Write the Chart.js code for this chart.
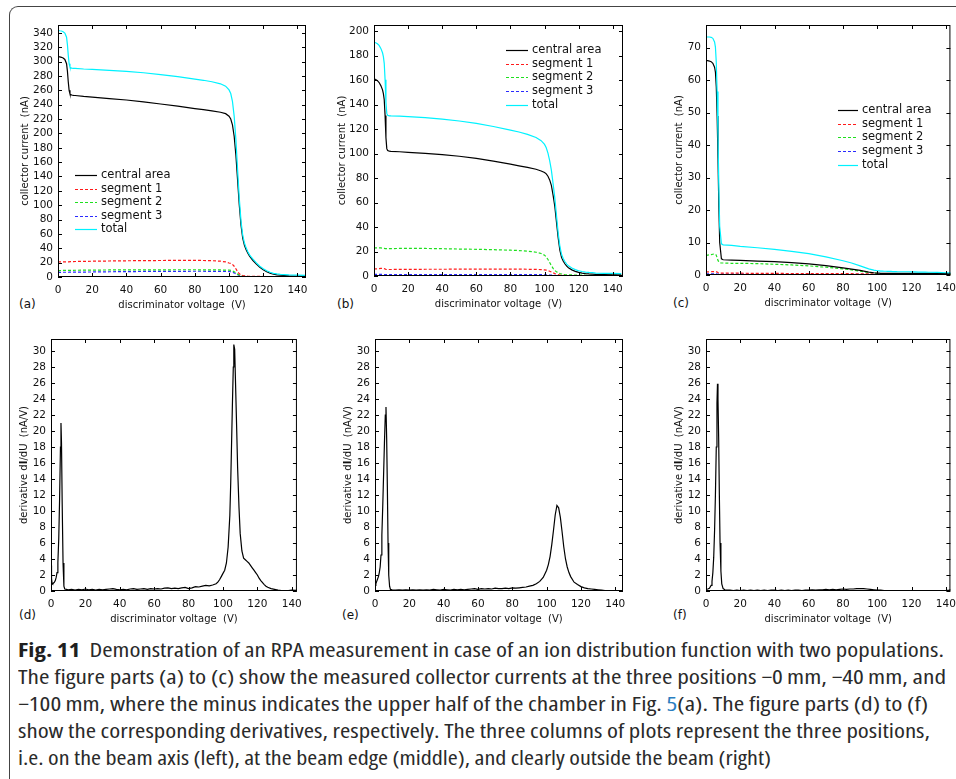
<!DOCTYPE html>
<html>
<head>
<meta charset="utf-8">
<script src="https://cdn.jsdelivr.net/npm/chart.js@4/dist/chart.umd.min.js"></script>
<style>
  html, body { margin: 0; padding: 0; background: #fff; }
  body { width: 956px; height: 779px; position: relative; overflow: hidden; }
  #frame { position: absolute; left: 9px; top: 6px; width: 960px; height: 800px;
           border-left: 1px solid #444; border-top: 1px solid #444; border-top-left-radius: 9px; }
  canvas { position: absolute; }
  .plab { position: absolute; font-family: "DejaVu Sans", sans-serif; font-size: 12px; color: #111; line-height: 14px; }
  .ln { position: absolute; left: 18px; white-space: nowrap; font-family: "Liberation Sans Narrow", "Open Sans", sans-serif;
        font-stretch: condensed; font-size: 19px; line-height: 27px; color: #2a2a2a; transform-origin: 0 50%; }
  .ln b { color: #1f1f1f; }
  .lnk { color: #2a7ec0; }
</style>
</head>
<body>
<div id="frame"></div>

<div class="plab" style="left:19px;top:297px">(a)</div>
<div class="plab" style="left:337px;top:297px">(b)</div>
<div class="plab" style="left:673px;top:296px">(c)</div>
<div class="plab" style="left:19px;top:608px">(d)</div>
<div class="plab" style="left:342px;top:608px">(e)</div>
<div class="plab" style="left:673px;top:608px">(f)</div>

<div class="ln" data-w="926" style="top:637px"><b>Fig. 11</b>&nbsp; Demonstration of an RPA measurement in case of an ion distribution function with two populations.</div>
<div class="ln" data-w="928" style="top:664px">The figure parts (a) to (c) show the measured collector currents at the three positions −0&#8201;mm, −40&#8201;mm, and</div>
<div class="ln" data-w="910" style="top:691px">−100&#8201;mm, where the minus indicates the upper half of the chamber in Fig. <span class="lnk">5</span>(a). The figure parts (d) to (f)</div>
<div class="ln" data-w="912" style="top:718px">show the corresponding derivatives, respectively. The three columns of plots represent the three positions,</div>
<div class="ln" data-w="753" style="top:745px">i.e. on the beam axis (left), at the beam edge (middle), and clearly outside the beam (right)</div>

<script>
// ---------------- DATA ----------------
// discriminator voltage grid (V) shared by the collector-current panels (a)-(c)
const voltGrid = [0,1,2,3,4,5,5.5,6,6.5,7,7.5,8,9,10,15,20,30,40,50,60,70,80,85,90,95,98,100,
  101,102,103,104,105,106,107,108,109,110,111,112,113,114,116,118,120,122,124,126,128,130,135,140,145];

const seriesNames = ["central area", "segment 1", "segment 2", "segment 3", "total"];

// (a) beam axis, collector current (nA)
const aCentral = [307,306.5,306,305,303,297, 287,272,260,255,254,253.5, 253,252.8,251.5,250.5,248.5,246.5,244,241,238,234.5,
  233,231.5,229.5,227.5,224, 220,212,196,170,135,100,72,54,44,38,33,29,26,23, 18,13.5,10,7.2,5.2,3.8,3,2.4, 1.7,1.4,1.2];
const aSeg1 = [21,21,21,21,21,21.1, 21.1,21.2,21.2,21.3,21.3,21.4, 21.5,21.6,21.8,22,22.3,22.6,22.8,23,23.1,23.1,
  23,22.7,22,21,19.5, 19,17.5,15,11.5,7.5,4.5,2.8,2,1.6,1.3,1.1,1,0.9,0.9, 0.8,0.8,0.7,0.7,0.7,0.6,0.6,0.6, 0.6,0.5,0.5];
const aSeg2 = [9,9,9.1,9.1,9.1,9.2, 9.2,9.2,9.2,9.3,9.3,9.3, 9.3,9.4,9.5,9.6,9.8,9.9,10,10,10.1,10.1,
  10,9.9,9.8,9.6,9.5, 9.2,8.5,7.3,5.7,4,2.6,1.7,1.2,0.9,0.7,0.6,0.5,0.5,0.5, 0.5,0.4,0.4,0.4,0.4,0.4,0.4,0.4, 0.4,0.4,0.4];
const aSeg3 = [6.5,6.5,6.5,6.6,6.6,6.6, 6.6,6.6,6.7,6.7,6.7,6.7, 6.8,6.8,6.9,7,7.3,7.5,7.7,7.8,7.9,8,
  8,7.9,7.8,7.7,7.6, 7.3,6.7,5.8,4.5,3.2,2.1,1.4,1,0.8,0.6,0.5,0.4,0.4,0.4, 0.4,0.3,0.3,0.3,0.3,0.3,0.3,0.3, 0.3,0.3,0.3];
const aTotal = [343.5,343,342.6,341.7,339.7,333.9, 323.9,309,297.1,292.3,291.3,290.9, 290.6,290.6,289.7,289.1,287.9,286.5,284.5,281.8,279.1,275.7,
  274,272,269.1,265.8,260.6, 255.5,244.7,224.1,191.7,149.7,109.2,77.9,58.2,47.3,40.6,35.2,30.9,27.8,24.8, 19.7,15,11.4,8.6,6.6,5.1,4.3,3.7, 3,2.6,2.4];

// (b) beam edge, collector current (nA)
const bCentral = [161,160.5,159.5,158,155.5,152, 149,144,131,113,104,102.5, 102,101.8,101.5,101,100.2,99.2,97.8,96,93.8,91.3,
  90,88.7,87.2,85.8,84.5, 83.4,81.5,78.5,74,66,57,44,31,21,15,12,9.8,8,6.7, 5,3.8,3,2.4,2,1.7,1.5,1.3, 1.1,1,0.9];
const bSeg1 = [5.7,5.8,5.9,6,6.2,6.3, 6.2,6,5.7,5.4,5.3,5.3, 5.3,5.3,5.4,5.4,5.5,5.5,5.6,5.6,5.6,5.6,
  5.6,5.5,5.4,5.2,5, 4.8,4.4,3.9,3.3,2.6,2,1.5,1.1,0.8,0.6,0.5,0.4,0.4,0.4, 0.3,0.3,0.3,0.3,0.3,0.3,0.3,0.3, 0.3,0.3,0.3];
const bSeg2 = [22.8,22.9,23,23,22.9,22.7, 22.6,22.5,22.4,22.3,22.3,22.3, 22.3,22.4,22.5,22.5,22.5,22.3,22,21.8,21.5,21.1,
  20.8,20.3,19.4,18.4,17, 15.5,13.5,11,8.5,6.3,4.6,3.4,2.6,2,1.6,1.3,1.1,1,0.9, 0.9,0.8,0.7,0.7,0.6,0.6,0.6,0.5, 0.5,0.5,0.5];
const bSeg3 = [1.3,1.3,1.3,1.3,1.3,1.3, 1.3,1.2,1.2,1.2,1.2,1.2, 1.2,1.2,1.2,1.2,1.2,1.2,1.2,1.2,1.2,1.2,
  1.2,1.2,1.1,1.1,1, 1,0.9,0.8,0.7,0.6,0.5,0.4,0.4,0.3,0.3,0.3,0.3,0.3,0.3, 0.3,0.3,0.3,0.3,0.3,0.3,0.3,0.3, 0.3,0.3,0.3];
const bTotal = [190.8,190.5,189.7,188.3,185.9,182.3, 179.1,173.7,160.3,141.9,132.8,131.3, 130.8,130.7,130.6,130.1,129.4,128.2,126.6,124.6,122.1,119.2,
  117.6,115.7,113.1,110.5,107.5, 104.7,100.3,94.2,86.5,75.5,64.1,49.3,35.1,24.1,17.5,14.1,11.6,9.7,8.3, 6.5,5.2,4.3,3.7,3.2,2.9,2.7,2.4, 2.2,2.1,2];

// (c) outside the beam, collector current (nA)
const cCentral = [66,66,65.9,65.7,65.2,64, 62.5,58,49,36,21,10, 5,4.7,4.6,4.5,4.3,4.1,3.8,3.4,2.9,2.2,
  1.8,1.4,0.9,0.7,0.6, 0.55,0.5,0.5,0.5,0.5,0.5,0.5,0.5,0.5,0.5,0.5,0.5,0.5,0.5, 0.5,0.5,0.5,0.5,0.5,0.5,0.5,0.5, 0.4,0.4,0.3];
const cSeg1 = [0.9,0.95,1,1,1.05,1.05, 1.05,1,0.9,0.75,0.65,0.6, 0.6,0.6,0.55,0.55,0.5,0.5,0.45,0.45,0.4,0.4,
  0.4,0.35,0.35,0.3,0.3, 0.3,0.3,0.25,0.25,0.25,0.25,0.25,0.25,0.25,0.2,0.2,0.2,0.2,0.2, 0.2,0.2,0.2,0.2,0.2,0.2,0.2,0.2, 0.2,0.2,0.2];
const cSeg2 = [6,6.1,6.2,6.3,6.4,6.5, 6.4,6.1,5.3,4.5,4,3.8, 3.7,3.7,3.6,3.6,3.5,3.3,3.1,2.8,2.4,1.9,
  1.6,1.2,0.8,0.6,0.5, 0.45,0.4,0.4,0.4,0.4,0.4,0.4,0.35,0.35,0.35,0.35,0.3,0.3,0.3, 0.3,0.3,0.3,0.3,0.3,0.3,0.25,0.25, 0.25,0.2,0.2];
const cSeg3 = [0.35,0.35,0.35,0.35,0.35,0.35, 0.35,0.35,0.3,0.3,0.3,0.3, 0.25,0.25,0.25,0.25,0.25,0.25,0.25,0.2,0.2,0.2,
  0.2,0.2,0.2,0.2,0.2, 0.2,0.15,0.15,0.15,0.15,0.15,0.15,0.15,0.15,0.15,0.15,0.15,0.15,0.15, 0.15,0.15,0.1,0.1,0.1,0.1,0.1,0.1, 0.1,0.1,0.1];
const cTotal = [73.3,73.3,73.3,73.2,72.9,71.8, 70.2,65.5,56.5,43,27,15, 9.6,9.3,9.1,8.8,8.4,7.9,7.3,6.6,5.6,4.4,
  3.7,2.8,1.9,1.5,1.3, 1.25,1.2,1.2,1.15,1.15,1.1,1.1,1.1,1.05,1.05,1.05,1,1,1, 1,1,0.95,0.95,0.9,0.9,0.9,0.85, 0.8,0.7,0.6];

// (d) derivative dI/dU (nA/V), beam axis
const dVolt = [0,0.3,0.6,1,1.5,2,2.5,3,3.5,4, 4.5,5,5.5,5.8,6.1,6.5,7,7.5,8,9, 10,12,14,16,18,20,22,24,26,28,
  30,32,34,36,38,40,42,44,46,48, 50,52,54,56,58,60,62,64,66,68, 70,72,74,76,78,80,82,84,86,88,
  90,92,94,96,97,98,99,100,101,102, 103,104,104.5,105,105.5,106,106.3,106.8,107.3,108,
  108.5,109.3,110,111,112,113,114,115,116,117, 118,119,120,121,122,123,124,125,126,128, 130,132,134,136,138,140,142,144,145];
const dDeriv = [3.2,1.6,1.0,0.9,1.0,1.1,1.3,1.7,2.3,3.6, 6.5,11.5,18,21,18.5,11,3.5,0.6,0.25,0.2,
  0.15,0.2,0.1,0.2,0.15,0.25,0.15,0.2,0.1,0.2, 0.15,0.2,0.25,0.3,0.2,0.15,0.2,0.15,0.25,0.3,
  0.2,0.25,0.3,0.2,0.3,0.25,0.3,0.25,0.35,0.4, 0.3,0.35,0.3,0.4,0.45,0.3,0.4,0.55,0.5,0.6,
  0.7,0.65,0.75,0.9,1.1,1.4,1.8,2.2,2.6,3.5, 5.5,9.5,13.5,18.5,23.5,28,30.8,30.2,26,20,
  15.5,10.5,7.2,5,4.1,3.9,3.7,3.5,3.2,2.9, 2.6,2.3,2.0,1.6,1.3,1.05,0.8,0.6,0.46,0.3, 0.2,0.1,0.05,0.03,0.05,0.1,0.08,0.15,0.1];

// (e) derivative dI/dU (nA/V), beam edge
const eVolt = [0,0.5,1,1.5,2,2.5,3,3.5,4,4.5, 5,5.5,6,6.4,6.8,7.2,7.6,8,8.5,9, 10,12,14,16,18,20,22,24,26,28,
  30,32,34,36,38,40,42,44,46,48, 50,52,54,56,58,60,62,64,66,68, 70,72,74,76,78,80,82,84,86,88,
  90,92,94,96,98,100,101,102,103,104, 105,106,107,108,109,110,111,112,113,114,
  116,118,120,122,124,126,128,130,132,134, 136,138,140,142,144,145];
const eDeriv = [0.7,0.9,1.2,1.5,1.8,2.3,3,4.5,7,10.5, 14.5,18.5,22,23,19,13,6,2,0.6,0.2,
  0.15,0.1,0.15,0.1,0.15,0.1,0.15,0.1,0.15,0.1, 0.15,0.1,0.2,0.15,0.1,0.2,0.15,0.1,0.2,0.15,
  0.2,0.15,0.2,0.25,0.3,0.2,0.3,0.25,0.3,0.25, 0.35,0.3,0.3,0.35,0.3,0.4,0.35,0.4,0.45,0.5,
  0.6,0.7,0.9,1.2,1.7,2.6,3.3,4.3,5.8,7.6, 9.5,10.7,10.4,9.2,7.4,5.5,4,3,2.3,1.8,
  1.1,0.8,0.55,0.4,0.3,0.25,0.2,0.15,0.1,0.05, 0.05,0.05,0.05,0.05,0.05,0.05];

// (f) derivative dI/dU (nA/V), outside the beam
const fVolt = [0,1,2,3,3.5,4,4.5,5,5.5,6, 6.4,6.7,7,7.4,7.8,8.2,8.7,9.2,10,11, 12,14,16,18,20,22,24,26,28,30,
  32,34,36,38,40,42,44,46,48,50, 52,54,56,58,60,62,64,66,68,70, 72,74,76,78,80,82,84,86,88,90,
  92,94,96,98,100,102,104,106,108,110, 112,114,116,118,120,122,124,126,128,130, 132,134,136,138,140,142,144,145];
const fDeriv = [0.2,0.25,0.35,0.7,1.2,2.3,4.2,7.5,12,18, 23.5,25.9,24,19,12,6,2.5,0.9,0.3,0.15,
  0.1,0.1,0.05,0.1,0.05,0.1,0.05,0.1,0.05,0.1, 0.05,0.1,0.05,0.1,0.1,0.05,0.1,0.05,0.1,0.05,
  0.1,0.1,0.05,0.1,0.1,0.15,0.1,0.15,0.15,0.2, 0.15,0.2,0.15,0.2,0.25,0.2,0.25,0.25,0.3,0.3,
  0.3,0.25,0.2,0.15,0.1,0.1,0.05,0.05,0.05,0.05, 0.05,0.05,0.05,0.05,0.05,0.05,0.05,0.05,0.05,0.05,
  0.05,0.05,0.05,0.05,0.05,0.1,0.2,0.1];

// ---------------- RENDERING ----------------
Chart.defaults.font.family = "'DejaVu Sans', sans-serif";
Chart.defaults.color = '#111';

const FONT_TICK = 10.5;
const XAXIS_H = 34;
const seriesStyle = [
  { color: '#000000', dash: [] },
  { color: '#ff1a1a', dash: [3, 2] },
  { color: '#1ee01e', dash: [3, 2] },
  { color: '#2a2aff', dash: [3, 2] },
  { color: '#00f2ff', dash: [] }
];
const drawOrder = [1, 2, 3, 4, 0];

const zip = (xs, ys) => xs.map((x, i) => ({ x: x, y: ys[i] }));

const frameTicks = {
  id: 'frameTicks',
  afterDraw(chart) {
    const { ctx, chartArea: a } = chart;
    const xs = chart.scales.x, ys = chart.scales.y;
    ctx.save();
    ctx.strokeStyle = '#000';
    ctx.lineWidth = 1;
    ctx.beginPath();
    const L = 4;
    xs.ticks.forEach(t => {
      const px = Math.round(xs.getPixelForValue(t.value)) + 0.5;
      ctx.moveTo(px, a.bottom); ctx.lineTo(px, a.bottom - L);
      ctx.moveTo(px, a.top); ctx.lineTo(px, a.top + L);
    });
    ys.ticks.forEach(t => {
      const py = Math.round(ys.getPixelForValue(t.value)) + 0.5;
      ctx.moveTo(a.left, py); ctx.lineTo(a.left + L, py);
      ctx.moveTo(a.right, py); ctx.lineTo(a.right - L, py);
    });
    ctx.stroke();
    ctx.strokeRect(a.left + 0.5, a.top + 0.5, a.right - a.left - 1, a.bottom - a.top - 1);
    ctx.restore();
  }
};

const inLegend = {
  id: 'inLegend',
  afterDraw(chart, args, o) {
    if (!o || o.x === undefined) return;
    const ctx = chart.ctx;
    chart.data.datasets.forEach((ds, i) => {
      const yy = Math.round(o.y + i * o.dy) + 0.5;
      ctx.save();
      ctx.strokeStyle = ds.borderColor;
      ctx.lineWidth = 1.2;
      ctx.setLineDash(ds.borderDash || []);
      ctx.beginPath();
      ctx.moveTo(o.x, yy); ctx.lineTo(o.x + o.len, yy);
      ctx.stroke();
      ctx.setLineDash([]);
      ctx.fillStyle = '#111';
      ctx.font = "11.5px 'DejaVu Sans'";
      ctx.textBaseline = 'middle';
      ctx.fillText(ds.label, o.x + o.len + o.gap, yy);
      ctx.restore();
    });
  }
};

const yTitle = {
  id: 'yTitle',
  afterDraw(chart, args, o) {
    if (!o || !o.parts) return;
    const ctx = chart.ctx, a = chart.chartArea;
    ctx.save();
    ctx.translate(o.cx, (a.top + a.bottom) / 2 + (o.dy || 0));
    ctx.rotate(-Math.PI / 2);
    ctx.textBaseline = 'middle';
    ctx.fillStyle = '#111';
    let total = 0;
    const widths = o.parts.map(p => {
      ctx.font = (p.bold ? 'bold ' : '') + "10px 'DejaVu Sans'";
      const w = ctx.measureText(p.text).width; total += w; return w;
    });
    let x = -total / 2;
    o.parts.forEach((p, i) => {
      ctx.font = (p.bold ? 'bold ' : '') + "10px 'DejaVu Sans'";
      ctx.fillText(p.text, x, 0);
      x += widths[i];
    });
    ctx.restore();
  }
};

function makePanel(p) {
  const cl = p.titleX - 8, ct = p.T - 14, cr = p.R + 10, cb = p.B + XAXIS_H;
  const canvas = document.createElement('canvas');
  canvas.width = cr - cl; canvas.height = cb - ct;
  canvas.style.left = cl + 'px'; canvas.style.top = ct + 'px';
  canvas.style.width = (cr - cl) + 'px'; canvas.style.height = (cb - ct) + 'px';
  document.body.appendChild(canvas);

  const legendOpts = p.legend ? { x: p.legend.x - cl, y: p.legend.y - ct, dy: p.legend.dy, len: p.legend.len, gap: 4 } : {};

  new Chart(canvas, {
    type: 'line',
    data: { datasets: p.datasets },
    options: {
      responsive: false,
      animation: false,
      devicePixelRatio: 1,
      layout: { padding: { left: 0, top: 14, right: 10, bottom: 0 } },
      elements: { point: { radius: 0 }, line: { tension: 0, borderWidth: 1.2 } },
      plugins: {
        legend: { display: false },
        tooltip: { enabled: false },
        inLegend: legendOpts,
        yTitle: { cx: 8, parts: p.ytitle }
      },
      scales: {
        x: {
          type: 'linear', min: 0, max: p.xmax,
          afterFit: s => { s.height = XAXIS_H; },
          grid: { display: false, drawTicks: false },
          border: { display: false },
          ticks: { stepSize: 20, autoSkip: false, includeBounds: false, maxRotation: 0, padding: 7,
                   font: { size: FONT_TICK }, color: '#111' },
          title: { display: true, text: 'discriminator voltage  (V)', padding: 0, font: { size: 10 }, color: '#111' }
        },
        y: {
          type: 'linear', min: 0, max: p.ymax,
          afterFit: s => { s.width = p.L - cl; },
          grid: { display: false, drawTicks: false },
          border: { display: false },
          ticks: { stepSize: p.ystep, autoSkip: false, includeBounds: false, padding: 5,
                   font: { size: FONT_TICK }, color: '#111' }
        }
      }
    },
    plugins: [frameTicks, inLegend, yTitle]
  });
}

function currentSets(series) {
  return series.map((vals, i) => ({
    label: seriesNames[i],
    data: zip(voltGrid, vals),
    borderColor: seriesStyle[i].color,
    borderDash: seriesStyle[i].dash,
    borderWidth: 1.2,
    order: drawOrder[i],
    fill: false
  }));
}
function derivSet(xs, ys) {
  return [{ label: 'dI/dU', data: zip(xs, ys), borderColor: '#000', borderWidth: 1.2, fill: false }];
}

const curTitle = [{ text: 'collector current  (nA)' }];
const derTitle = [{ text: 'derivative d' }, { text: 'I', bold: true }, { text: '/dU  (nA/V)' }];

const panels = [
  { L: 58, T: 25, R: 306, B: 277, titleX: 25, xmax: 145, ymax: 351, ystep: 20, ytitle: curTitle,
    datasets: currentSets([aCentral, aSeg1, aSeg2, aSeg3, aTotal]),
    legend: { x: 75, y: 175, dy: 13.6, len: 22 } },
  { L: 374, T: 25, R: 623, B: 276, titleX: 342, xmax: 146, ymax: 205, ystep: 20, ytitle: curTitle,
    datasets: currentSets([bCentral, bSeg1, bSeg2, bSeg3, bTotal]),
    legend: { x: 506, y: 50, dy: 13.7, len: 22 } },
  { L: 706, T: 25, R: 953, B: 275, titleX: 679, xmax: 142.7, ymax: 77, ystep: 10, ytitle: curTitle,
    datasets: currentSets([cCentral, cSeg1, cSeg2, cSeg3, cTotal]),
    legend: { x: 838, y: 110, dy: 13.7, len: 20 } },
  { L: 51, T: 339, R: 299, B: 591, titleX: 24, xmax: 143, ymax: 31.5, ystep: 2, ytitle: derTitle,
    datasets: derivSet(dVolt, dDeriv) },
  { L: 375, T: 339, R: 623, B: 591, titleX: 348, xmax: 144.5, ymax: 31.5, ystep: 2, ytitle: derTitle,
    datasets: derivSet(eVolt, eDeriv) },
  { L: 706, T: 339, R: 953, B: 591, titleX: 679, xmax: 142.7, ymax: 31.5, ystep: 2, ytitle: derTitle,
    datasets: derivSet(fVolt, fDeriv) }
];
panels.forEach(makePanel);

// fit caption lines to their measured widths
document.querySelectorAll('.ln').forEach(el => {
  const target = parseFloat(el.dataset.w);
  const w = el.getBoundingClientRect().width;
  if (w > 0) el.style.transform = 'scaleX(' + (target / w).toFixed(4) + ')';
});
</script>
</body>
</html>
